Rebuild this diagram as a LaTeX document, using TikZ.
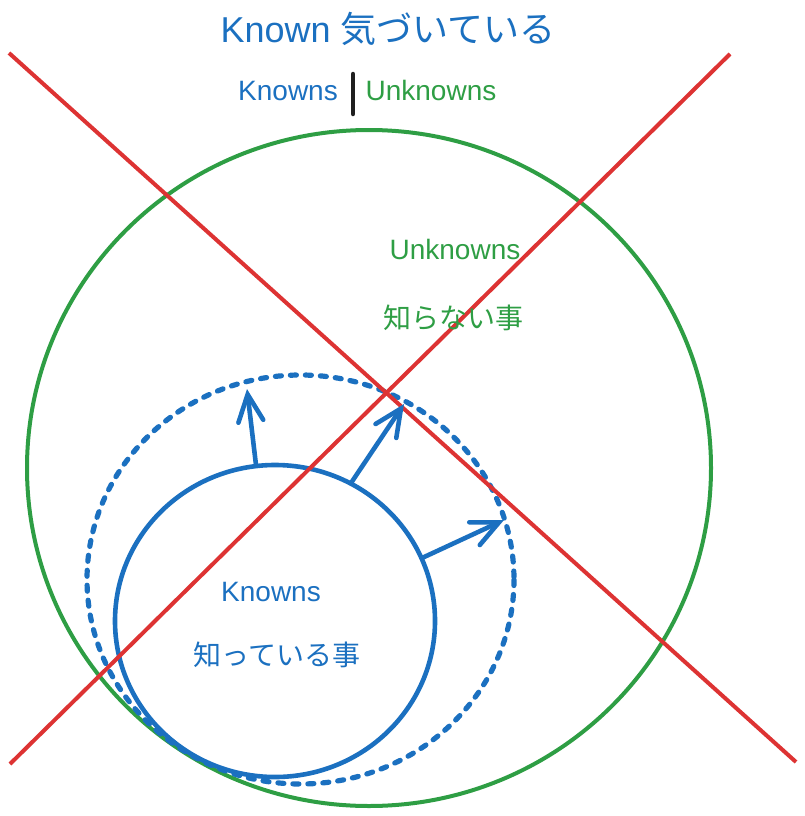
\documentclass[tikz,border=0pt]{standalone}
\usepackage{fontspec}
\setmainfont{Liberation Sans}
\newfontfamily\jp{Noto Sans CJK JP}
\usetikzlibrary{arrows.meta}
\definecolor{kblue}{HTML}{1B70C0}
\definecolor{kgreen}{HTML}{2E9E44}
\definecolor{kred}{HTML}{DD3333}
\begin{document}
\begin{tikzpicture}[x=1pt,y=-1pt,
  txt/.style={inner sep=0pt,anchor=base,font=\fontsize{28}{34}\selectfont},
  arr/.style={kblue,line width=4.6pt,-{Straight Barb[length=27pt,width=25pt,line cap=round]}},
  redline/.style={kred,line width=4pt},
  ring/.style={line width=4pt}]
\useasboundingbox (0,0) rectangle (805,816);
% title
\node[txt,font=\fontsize{36}{43}\selectfont,kblue] (title) at (388,43) {Known {\jp 気づいている}};
\node[txt,kblue] (kn) at (288,100) {Knowns};
\node[txt,kgreen] (unk) at (431,100) {Unknowns};
\coordinate (bartop) at (353,74);
\coordinate (barbot) at (353,114);
\draw[black!88,line width=4.5pt,line cap=round] (bartop) -- (barbot);
% circles
\draw[kgreen,ring] (369,468) ellipse [x radius=342,y radius=338];
\draw[kblue,line width=5.2pt,dash pattern=on 6pt off 9pt,line cap=round] (300.5,579.5) ellipse [x radius=213.5,y radius=204.5];
\draw[kblue,line width=4.6pt] (275,621) ellipse [x radius=160,y radius=156];
% red cross
\coordinate (r1a) at (9,53);
\coordinate (r1b) at (796,762);
\coordinate (r2a) at (730,54);
\coordinate (r2b) at (10,764);
\draw[redline] (r1a) -- (r1b);
\draw[redline] (r2a) -- (r2b);
% arrows
\coordinate (a1s) at (256,465);
\coordinate (a1e) at (247,389);
\coordinate (a2s) at (351,483);
\coordinate (a2e) at (404,404);
\coordinate (a3s) at (422,558);
\coordinate (a3e) at (504,520);
\draw[arr] (a1s) -- (a1e);
\draw[arr] (a2s) -- (a2e);
\draw[arr] (a3s) -- (a3e);
% labels
\node[txt,kgreen] (unkin) at (455,259) {Unknowns};
\node[txt,kgreen] (unkjp) at (453,328) {\jp 知らない事};
\node[txt,kblue] (knin) at (271,601) {Knowns};
\node[txt,kblue] (knjp) at (277,665) {\jp 知っている事};
\end{tikzpicture}
\end{document}
